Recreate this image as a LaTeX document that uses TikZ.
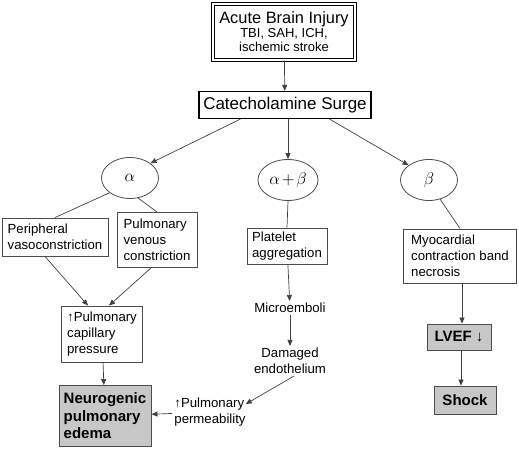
\documentclass[tikz,border=0pt]{standalone}
\usepackage{fontspec}
\usepackage{graphicx}
\setmainfont{Liberation Sans}
\usetikzlibrary{shapes.geometric,arrows.meta}
\newcommand{\gkbig}[1]{\scalebox{1.4}{$#1$}}
\begin{document}
\begin{tikzpicture}[x=1pt,y=-1pt,
  every node/.style={font=\fontsize{13.2}{16}\selectfont},
  box/.style={draw=black!70,line width=0.9pt,align=left,inner sep=3pt},
  gbox/.style={box,fill=black!22,font=\fontsize{15}{17.5}\selectfont\bfseries},
  oval/.style={draw=black!70,line width=0.8pt,ellipse,minimum width=57pt,minimum height=41pt,inner sep=0pt},
  txt/.style={align=center,inner sep=2pt},
  arr/.style={draw=black!75,line width=0.7pt,-{Triangle[length=6pt,width=5pt]}},
  ln/.style={draw=black!75,line width=0.7pt}]
\useasboundingbox (0,0) rectangle (519,449);
% top
\node[draw,line width=1.4pt,double,double distance=1.6pt,align=center,inner sep=2pt,minimum width=142pt,minimum height=56pt] (abi) at (284,32)
  {{\fontsize{16.4}{18}\selectfont Acute Brain Injury}\\[-2pt]{\fontsize{13}{14}\selectfont TBI, SAH, ICH,}\\[-2pt]{\fontsize{13}{14}\selectfont ischemic stroke}};
\node[draw,line width=1.3pt,minimum width=172pt,minimum height=27pt,inner sep=2pt,font=\fontsize{17}{19}\selectfont] (cs) at (285,105) {Catecholamine Surge};
% ellipses
\node[oval] (a) at (130,178) {\gkbig{\alpha}};
\node[oval,minimum width=60pt] (ab) at (288,180) {\gkbig{\alpha\mkern-2mu+\mkern-2mu\beta}};
\node[oval] (b) at (429,180) {\gkbig{\beta}};
% boxes
\node[box,minimum width=106pt,minimum height=38pt] (pv) at (55,237) {Peripheral\\vasoconstriction};
\node[box,minimum width=80pt,minimum height=55pt] (pvc) at (157,240) {Pulmonary\\venous\\constriction};
\node[box,minimum width=80pt,minimum height=36pt] (pa) at (287,246) {Platelet\\aggregation};
\node[box,minimum width=113pt,minimum height=54pt] (mc) at (460,256) {Myocardial\\contraction band\\necrosis};
\node[box,minimum width=81pt,minimum height=56pt] (pcp) at (102,334) {↑Pulmonary\\capillary\\pressure};
\node[gbox,minimum width=92pt,minimum height=61pt] (npe) at (105,416) {Neurogenic\\pulmonary\\edema};
\node[txt] (me) at (290,308) {Microemboli};
\node[txt] (de) at (290,361) {Damaged\\endothelium};
\node[txt,align=left] (pp) at (210,412) {↑Pulmonary\\permeability};
\node[gbox,minimum width=64pt,minimum height=26pt,inner sep=2pt] (lv) at (459,337) {LVEF ↓};
\node[gbox,minimum width=62pt,minimum height=28pt,inner sep=2pt] (sh) at (465,400) {Shock};
% coordinates
\coordinate (c1) at ([xshift=42pt]cs.south west);
\coordinate (c2) at ([xshift=3pt]cs.south);
\coordinate (c3) at ([xshift=-42pt]cs.south east);
\coordinate (d1) at ([xshift=4pt]de.south);
\coordinate (p1) at ([xshift=-2pt,yshift=8pt]pp.east);
% connectors
\draw[arr] (abi) -- (cs);
\draw[arr] (c1) -- (a.north east);
\draw[arr] (c2) -- (ab.north);
\draw[arr] (c3) -- (b.north west);
\draw[ln] (a.south west) -- (pv.north);
\draw[ln] (a.-68) -- (pvc.north);
\draw[ln] (ab.south) -- (pa.north);
\draw[ln] (b.-60) -- (mc.north);
\draw[arr] ([xshift=-10pt]pv.south) -- ([xshift=-14pt]pcp.north);
\draw[arr] ([xshift=-6pt]pvc.south) -- ([xshift=7pt]pcp.north);
\draw[arr] (pcp) -- (npe);
\draw[arr] (pa) -- (me);
\draw[arr] (me) -- (de);
\draw[arr] (d1) -- (p1);
\draw[arr] (pp) -- (npe);
\draw[arr] ([xshift=2pt]mc.south) -- ([xshift=3pt]lv.north);
\draw[arr] ([xshift=2pt]lv.south) -- ([xshift=-4pt]sh.north);
\end{tikzpicture}
\end{document}
